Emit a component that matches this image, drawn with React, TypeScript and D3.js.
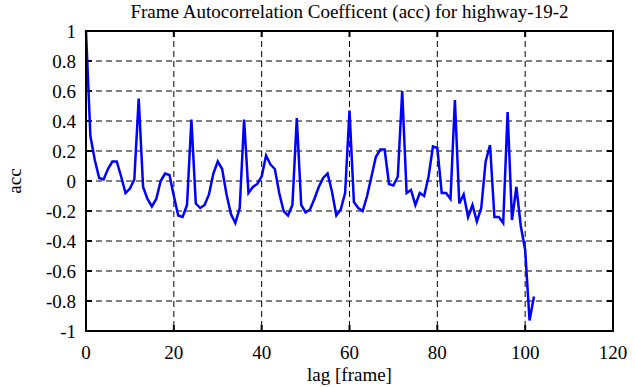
import React from "react";
import * as d3 from "d3";

const titleText = "Frame Autocorrelation Coefficent (acc) for highway-19-2";
const xLabel = "lag [frame]";
const yLabel = "acc";
const xTicks = [0, 20, 40, 60, 80, 100, 120];
const yTicks = [1, 0.8, 0.6, 0.4, 0.2, 0, -0.2, -0.4, -0.6, -0.8, -1];
const accValues = [
  1.0, 0.3, 0.14, 0.02, 0.01, 0.08, 0.13, 0.13, 0.03, -0.08,
  -0.05, 0.01, 0.55, -0.04, -0.12, -0.17, -0.12, 0.0, 0.05, 0.04,
  -0.1, -0.23, -0.24, -0.16, 0.41, -0.15, -0.18, -0.16, -0.09, 0.05,
  0.13, 0.08, -0.09, -0.22, -0.28, -0.18, 0.41, -0.08, -0.04, -0.02,
  0.03, 0.17, 0.11, 0.08, -0.08, -0.2, -0.23, -0.16, 0.42, -0.16,
  -0.21, -0.19, -0.12, -0.04, 0.02, 0.05, -0.07, -0.23, -0.19, -0.08,
  0.47, -0.14, -0.18, -0.2, -0.1, 0.03, 0.16, 0.21, 0.21, -0.02,
  -0.03, 0.03, 0.6, -0.08, -0.06, -0.16, -0.08, -0.1, 0.03, 0.23,
  0.22, -0.08, -0.08, -0.12, 0.54, -0.15, -0.09, -0.24, -0.16, -0.27,
  -0.18, 0.13, 0.24, -0.24, -0.24, -0.28, 0.46, -0.26, -0.04, -0.3,
  -0.46, -0.93, -0.77,
];

const W = 635;
const H = 387;
const left = 86;
const right = 613;
const top = 31;
const bottom = 331;
const font = "'Liberation Serif', 'Times New Roman', serif";

export default function App() {
  const x = d3.scaleLinear().domain([0, 120]).range([left, right]);
  const y = d3.scaleLinear().domain([-1, 1]).range([bottom, top]);
  const line = d3
    .line<number>()
    .x((_, i) => x(i))
    .y((d) => y(d));
  const tl = 6;
  return (
    <svg
      width={W}
      height={H}
      style={{ position: "absolute", left: 0, top: 0, background: "#fff" }}
    >
      <rect x={0} y={0} width={W} height={H} fill="#fff" />
      {yTicks
        .filter((t) => t !== 1 && t !== -1)
        .map((t) => (
          <line
            key={"gy" + t}
            x1={left}
            x2={right}
            y1={y(t)}
            y2={y(t)}
            stroke="#000"
            strokeWidth={1}
            strokeDasharray="6,4"
          />
        ))}
      {xTicks
        .filter((t) => t !== 0 && t !== 120)
        .map((t) => (
          <line
            key={"gx" + t}
            x1={x(t)}
            x2={x(t)}
            y1={top}
            y2={bottom}
            stroke="#000"
            strokeWidth={1}
            strokeDasharray="6,4"
          />
        ))}
      {yTicks.map((t) => (
        <g key={"ty" + t}>
          <line x1={left} x2={left + tl} y1={y(t)} y2={y(t)} stroke="#000" strokeWidth={2} />
          <line x1={right} x2={right - tl} y1={y(t)} y2={y(t)} stroke="#000" strokeWidth={2} />
          <text
            x={left - 10}
            y={y(t)}
            dy="0.35em"
            textAnchor="end"
            fontFamily={font}
            fontSize={19}
            fill="#000"
          >
            {String(t)}
          </text>
        </g>
      ))}
      {xTicks.map((t) => (
        <g key={"tx" + t}>
          <line x1={x(t)} x2={x(t)} y1={bottom} y2={bottom - tl} stroke="#000" strokeWidth={2} />
          <line x1={x(t)} x2={x(t)} y1={top} y2={top + tl} stroke="#000" strokeWidth={2} />
          <text
            x={x(t)}
            y={bottom + 28}
            textAnchor="middle"
            fontFamily={font}
            fontSize={19}
            fill="#000"
          >
            {String(t)}
          </text>
        </g>
      ))}
      <path
        d={line(accValues) || ""}
        fill="none"
        stroke="#0000ff"
        strokeWidth={2.5}
        strokeLinejoin="miter"
      />
      <rect
        x={left}
        y={top}
        width={right - left}
        height={bottom - top}
        fill="none"
        stroke="#000"
        strokeWidth={2}
      />
      <text
        x={(left + right) / 2}
        y={18}
        textAnchor="middle"
        fontFamily={font}
        fontSize={19}
        fill="#000"
      >
        {titleText}
      </text>
      <text
        x={(left + right) / 2}
        y={381}
        textAnchor="middle"
        fontFamily={font}
        fontSize={19}
        fill="#000"
      >
        {xLabel}
      </text>
      <text
        transform={`translate(21, ${(top + bottom) / 2}) rotate(-90)`}
        textAnchor="middle"
        fontFamily={font}
        fontSize={19}
        fill="#000"
      >
        {yLabel}
      </text>
    </svg>
  );
}
